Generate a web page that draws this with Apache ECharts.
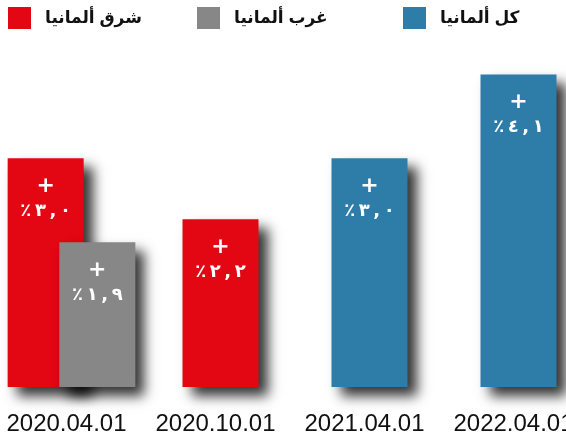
<!DOCTYPE html>
<html lang="ar">
<head>
    <meta charset="UTF-8">
    <title>chart</title>
    <script src="https://cdn.jsdelivr.net/npm/echarts@6/dist/echarts.min.js"></script>
    <style>
        html, body { margin: 0; padding: 0; background: #fff; }
    </style>
</head>
<body>
<div id="main" style="width: 566px;height:439px;"></div>
<script type="text/javascript">
    // data
    let categories = ['2020.04.01', '2020.10.01', '2021.04.01', '2022.04.01'];
    let eastValues = [3.0, 2.2, null, null];   // شرق ألمانيا
    let westValues = [1.9, null, null, null];  // غرب ألمانيا
    let allValues = [null, null, 3.0, 4.1];    // كل ألمانيا
    let names = ['شرق ألمانيا', 'غرب ألمانيا', 'كل ألمانيا'];

    let RED = '#e30613', GRAY = '#878787', BLUE = '#2e7ca8';

    // east bar sits beside the west bar where both exist, else centred
    let pairEast = eastValues.map((v, i) => westValues[i] != null ? v : null);
    let soloEast = eastValues.map((v, i) => westValues[i] == null ? v : null);

    let arDigits = ['٠', '١', '٢', '٣', '٤', '٥', '٦', '٧', '٨', '٩'];
    let LRM = '\u200E';
    function toArabic(v) {
        let s = v.toFixed(1).split('.');
        let a = s[0].split('').map(d => arDigits[+d]).join('');
        let b = s[1].split('').map(d => arDigits[+d]).join('');
        // LRM keeps the digits in left-to-right order around the spaces
        return '٪' + LRM + '\u2009' + LRM + a + LRM + '\u2009,\u2009' + LRM + b;
    }

    let shadow = {
        shadowColor: 'rgba(0,0,0,0.8)',
        shadowBlur: 12,
        shadowOffsetX: 9,
        shadowOffsetY: 9
    };
    let barLabel = {
        show: true,
        position: 'insideTop',
        distance: 16,
        formatter: p => '{p|+}\n{v|' + toArabic(p.value) + '}',
        rich: {
            p: {color: '#fff', fontSize: 22, fontWeight: 'bold', lineHeight: 24, fontFamily: 'DejaVu Sans'},
            v: {color: '#fff', fontSize: 18, fontWeight: 'bold', lineHeight: 26, fontFamily: 'DejaVu Sans'}
        }
    };
    function bar(name, axis, data, color, gap) {
        return {
            name: name,
            type: 'bar',
            xAxisIndex: axis,
            data: data,
            barWidth: 76,
            barGap: gap,
            itemStyle: Object.assign({color: color}, shadow),
            label: barLabel,
            emphasis: {disabled: true}
        };
    }
    let legendBase = {
        icon: 'rect',
        itemWidth: 23,
        itemHeight: 22,
        top: 7,
        padding: 0,
        itemStyle: {shadowBlur: 0, shadowOffsetX: 0, shadowOffsetY: 0, shadowColor: 'transparent'},
        textStyle: {fontSize: 17, fontWeight: 'bold', color: '#111',
            fontFamily: 'Liberation Sans, DejaVu Sans, sans-serif', padding: [2, 0, 0, 9]}
    };

    let myChart = echarts.init(document.getElementById("main"));
    let option = {
        animation: false,
        legend: [
            Object.assign({left: 8, data: [names[0]]}, legendBase),
            Object.assign({left: 197, data: [names[1]]}, legendBase),
            Object.assign({left: 403, data: [names[2]]}, legendBase)
        ],
        grid: {left: -3, width: 596, top: 44, bottom: 52, outerBoundsMode: 'none', containLabel: false},
        xAxis: [{
            type: 'category',
            data: categories,
            axisLine: {show: false},
            axisTick: {show: false},
            axisLabel: {
                interval: 0,
                fontSize: 24,
                color: '#111',
                fontFamily: 'Liberation Sans, Arial, sans-serif',
                margin: 25,
                padding: [0, 10, 0, 0]
            }
        }, {
            type: 'category',
            data: categories,
            show: false
        }],
        yAxis: {
            type: 'value',
            min: 0,
            max: 4.5,
            show: false,
            splitLine: {show: false}
        },
        series: [
            bar(names[0], 1, pairEast, RED, '-32%'),
            bar(names[1], 1, westValues, GRAY, '-32%'),
            bar(names[0], 0, soloEast, RED, '-100%'),
            bar(names[2], 0, allValues, BLUE, '-100%')
        ]
    };
    myChart.setOption(option);
</script>
</body>
</html>
